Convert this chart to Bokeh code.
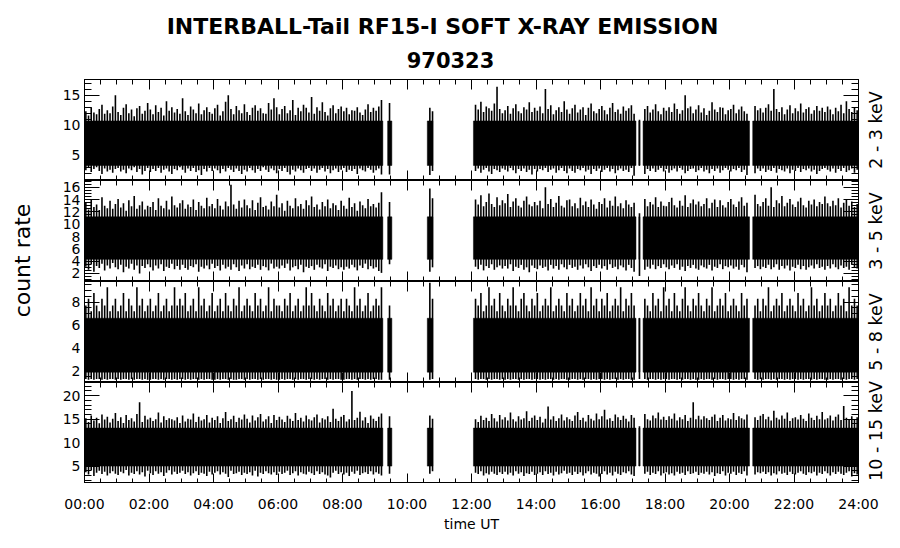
import math
import numpy as np
from bokeh.plotting import figure
from bokeh.layouts import row, column
from bokeh.models import ColumnDataSource, LinearAxis, FixedTicker, Range1d, Label
from bokeh.core.properties import value
from bokeh.embed import file_html
from bokeh.resources import INLINE

nan = float("nan")

TITLE = "INTERBALL-Tail RF15-I SOFT X-RAY EMISSION"
DATE = "970323"
Y_LABEL = "count rate"
X_LABEL = "time UT"
X_TICKS = [0, 2, 4, 6, 8, 10, 12, 14, 16, 18, 20, 22, 24]
X_TICK_LABELS = ["00:00", "02:00", "04:00", "06:00", "08:00", "10:00", "12:00",
                 "14:00", "16:00", "18:00", "20:00", "22:00", "24:00"]
BAND_LABELS = ["2 - 3 keV", "3 - 5 keV", "5 - 8 keV", "10 - 15 keV"]
Y_RANGES = [(0.8, 17.6), (0.7, 17.1), (1.0, 9.8), (1.3, 22.8)]
Y_TICKS = [[5, 10, 15], [2, 4, 6, 8, 10, 12, 14, 16], [2, 4, 6, 8], [5, 10, 15, 20]]
Y_MINOR_STEP = [1.0, 0.5, 0.5, 1.0]

# data-covered intervals (hours UT)
SEG_START = [0.00, 9.40, 10.63, 12.06, 17.19, 17.32, 20.72]
SEG_END = [9.25, 9.53, 10.80, 17.10, 17.22, 20.62, 24.00]
# dense (solid) part of each channel's count-rate band
CORE_LO = [3.3, 4.3, 1.9, 5.0]
CORE_HI = [10.7, 11.2, 6.6, 13.1]

# 5-minute bins (one row = one hour): bin maxima / minima, NaN = no data
HI_2_3 = [
    12.3, 11.6, 13.0, 12.1, 11.8, 12.7, 13.4, 11.9, 12.5, 12.0, 13.1, 15.0,
    12.2, 11.7, 12.9, 13.5, 12.0, 12.6, 11.5, 12.8, 13.2, 11.9, 12.4, 13.7,
    12.6, 11.8, 13.3, 12.2, 12.9, 11.6, 14.0, 12.4, 13.0, 12.1, 12.7, 11.9,
    14.5, 12.3, 11.7, 13.1, 12.6, 12.0, 13.6, 11.8, 12.5, 13.0, 12.2, 11.9,
    12.8, 13.4, 11.6, 12.3, 13.9, 15.0, 12.7, 11.8, 13.2, 12.5, 12.0, 13.5,
    12.2, 11.7, 12.9, 13.3, 12.4, 12.8, 12.0, 11.9, 13.7, 12.6, 14.5, 13.0,
    11.8, 12.7, 13.2, 12.0, 12.5, 14.2, 11.7, 12.9, 12.3, 13.4, 12.9, 12.1,
    14.7, 11.9, 13.0, 12.4, 13.8, 12.2, 11.6, 12.8, 13.3, 12.0, 12.7, 13.1,
    12.3, 12.9, 11.8, 12.5, 12.4, 13.0, 12.1, 11.7, 12.6, 13.5, 12.2, 12.9,
    12.4, 13.1, 14.2, nan, nan, 13.7, nan, nan, nan, nan, nan, nan,
    nan, nan, nan, nan, nan, nan, nan, nan, 12.9, 12.3, nan, nan,
    nan, nan, nan, nan, nan, nan, nan, nan, nan, nan, nan, nan,
    nan, 13.4, 12.6, 13.9, 12.2, 13.1, 12.8, 12.4, 13.6, 16.4, 12.7, 12.0,
    12.5, 13.2, 11.9, 12.8, 13.5, 12.3, 12.0, 13.0, 12.6, 13.8, 12.2, 12.9,
    12.4, 13.1, 12.0, 16.0, 12.7, 13.3, 11.8, 12.5, 13.0, 12.2, 14.0, 12.6,
    11.9, 12.8, 13.4, 12.1, 12.6, 13.0, 11.7, 12.9, 13.6, 12.3, 12.0, 12.7,
    13.2, 12.5, 11.8, 12.9, 13.7, 12.2, 12.6, 11.9, 13.1, 12.4, 12.8, 13.3,
    11.9, nan, 10.9, nan, 12.7, 13.2, 12.1, 12.6, 13.5, 12.3, 11.8, 12.9,
    12.4, 13.0, 12.2, 13.6, 12.7, 11.9, 12.5, 15.0, 12.8, 13.1, 12.0, 12.6,
    13.3, 12.1, 12.8, 11.7, 12.4, 13.8, 12.6, 12.2, 13.0, 12.9, 11.8, 12.5,
    12.7, 13.4, 12.0, 12.6, 13.1, 12.3, 11.9, nan, nan, 13.2, 12.5, 12.8,
    12.1, 12.9, 13.5, 12.4, 16.0, 12.7, 12.2, 13.0, 11.8, 12.6, 13.3, 12.0,
    12.8, 12.3, 13.6, 12.1, 12.7, 13.0, 11.9, 12.5, 13.2, 12.4, 12.9, 12.2,
    13.1, 12.6, 11.8, 12.9, 12.3, 13.4, 12.0, 14.0, 12.7, 12.2, 13.0, 12.5,
]
LO_2_3 = [
    2.5, 2.9, 2.2, 2.7, 3.0, 2.4, 1.9, 2.8, 2.3, 2.6, 2.1, 2.7,
    2.9, 2.3, 2.6, 2.0, 2.8, 2.5, 3.0, 2.2, 2.7, 1.8, 2.4, 2.9,
    2.2, 2.7, 2.4, 2.9, 2.1, 2.6, 2.8, 2.3, 1.9, 2.7, 2.5, 3.0,
    2.6, 2.1, 2.8, 2.4, 2.9, 2.2, 2.5, 1.7, 2.7, 2.3, 2.9, 2.4,
    2.8, 2.5, 2.0, 2.7, 2.3, 2.9, 2.6, 2.2, 2.8, 2.4, 1.9, 2.6,
    2.3, 2.9, 2.5, 2.1, 2.7, 2.4, 3.0, 2.6, 2.2, 2.8, 2.5, 2.0,
    2.7, 2.4, 2.9, 2.2, 1.8, 2.6, 2.3, 2.8, 2.5, 2.1, 2.7, 2.9,
    2.4, 2.8, 2.1, 2.6, 2.9, 2.3, 2.7, 2.0, 2.5, 2.8, 2.2, 2.6,
    2.9, 2.2, 2.6, 2.4, 2.7, 1.9, 2.8, 2.5, 2.3, 2.9, 2.6, 2.1,
    2.5, 2.8, 1.8, nan, nan, 1.8, nan, nan, nan, nan, nan, nan,
    nan, nan, nan, nan, nan, nan, nan, nan, 1.7, 2.4, nan, nan,
    nan, nan, nan, nan, nan, nan, nan, nan, nan, nan, nan, nan,
    nan, 2.4, 2.8, 2.1, 2.6, 2.9, 2.3, 1.9, 2.7, 2.5, 2.2, 2.8,
    2.6, 2.3, 2.9, 2.5, 2.0, 2.7, 2.4, 2.8, 2.2, 2.6, 1.8, 2.7,
    2.3, 2.7, 2.5, 2.9, 2.2, 2.6, 2.8, 2.1, 2.5, 2.9, 2.4, 2.0,
    2.8, 2.4, 2.1, 2.7, 2.5, 2.9, 2.3, 2.6, 1.9, 2.7, 2.4, 2.8,
    2.2, 2.6, 2.9, 2.3, 2.7, 2.0, 2.5, 2.8, 2.4, 2.6, 2.2, 2.9,
    1.6, nan, 3.3, nan, 1.9, 2.7, 2.4, 2.8, 2.2, 2.6, 2.9, 2.3,
    2.7, 2.1, 2.5, 2.8, 2.3, 2.9, 2.6, 2.0, 2.4, 2.7, 2.8, 2.2,
    2.5, 2.9, 2.3, 2.6, 2.0, 2.7, 2.4, 2.8, 2.1, 2.5, 2.9, 2.6,
    2.3, 2.7, 2.5, 2.9, 2.2, 2.6, 1.7, nan, nan, 2.0, 2.8, 2.4,
    2.8, 2.2, 2.6, 2.4, 2.9, 2.1, 2.7, 2.5, 2.3, 2.8, 2.0, 2.6,
    2.4, 2.9, 2.2, 2.7, 2.5, 2.8, 2.3, 2.6, 1.9, 2.4, 2.7, 2.9,
    2.6, 2.3, 2.8, 2.1, 2.7, 2.4, 2.9, 2.2, 2.5, 2.8, 2.1, 2.6,
]
HI_3_5 = [
    13.5, 12.4, 14.0, 12.8, 13.2, 12.3, 14.4, 13.0, 12.6, 13.8, 12.5, 13.3,
    14.1, 12.7, 13.4, 12.2, 13.9, 12.9, 14.6, 12.5, 13.1, 13.7, 12.4, 13.0,
    12.8, 13.6, 12.3, 14.2, 13.0, 12.6, 13.8, 12.4, 14.5, 13.1, 12.7, 13.4,
    13.9, 12.5, 13.2, 12.8, 14.0, 12.3, 13.6, 13.0, 12.6, 14.3, 12.9, 13.3,
    12.6, 14.1, 13.0, 12.4, 13.7, 12.9, 16.4, 13.2, 12.5, 13.8, 12.7, 14.0,
    13.1, 12.6, 13.9, 12.3, 13.5, 14.4, 12.8, 13.0, 12.4, 13.7, 12.9, 14.8,
    12.7, 13.4, 12.2, 13.8, 13.0, 12.6, 14.2, 12.9, 13.3, 12.5, 13.9, 13.1,
    14.5, 12.8, 13.2, 12.4, 13.6, 12.9, 14.0, 12.6, 13.4, 13.1, 12.3, 13.8,
    13.0, 12.5, 14.3, 12.8, 13.4, 12.2, 13.7, 13.1, 12.6, 14.1, 12.9, 13.3,
    12.7, 13.5, 15.2, nan, nan, 13.6, nan, nan, nan, nan, nan, nan,
    nan, nan, nan, nan, nan, nan, nan, nan, 15.8, 14.2, nan, nan,
    nan, nan, nan, nan, nan, nan, nan, nan, nan, nan, nan, nan,
    nan, 14.0, 13.2, 14.7, 12.9, 13.6, 15.0, 13.3, 12.8, 14.4, 13.1, 13.9,
    13.4, 14.9, 12.8, 13.7, 14.2, 13.0, 12.7, 13.8, 14.5, 13.2, 12.9, 13.6,
    13.1, 13.8, 12.6, 16.0, 13.3, 14.1, 12.8, 13.5, 14.6, 13.0, 12.7, 13.9,
    14.0, 12.9, 13.4, 12.6, 14.3, 13.1, 13.7, 12.8, 14.0, 13.2, 12.5, 13.6,
    13.3, 14.2, 12.7, 13.8, 13.0, 14.5, 12.9, 13.4, 12.6, 13.9, 13.2, 12.8,
    13.5, nan, 11.8, nan, 14.1, 12.9, 13.6, 13.2, 14.4, 12.8, 13.7, 13.0,
    12.9, 13.6, 14.3, 13.1, 12.7, 13.8, 13.0, 14.7, 12.8, 13.4, 14.0, 13.2,
    13.7, 12.9, 13.3, 14.2, 12.6, 13.5, 14.0, 12.8, 13.9, 13.1, 12.7, 13.6,
    14.1, 13.2, 12.8, 13.7, 14.4, 13.0, 13.5, nan, nan, 14.8, 13.3, 12.9,
    13.6, 14.2, 13.0, 16.0, 12.8, 13.9, 13.4, 14.6, 12.9, 13.5, 14.1, 13.2,
    12.8, 13.7, 14.3, 13.1, 12.7, 13.8, 13.2, 14.0, 12.9, 13.6, 13.3, 14.5,
    13.4, 12.9, 13.8, 13.1, 14.2, 12.7, 13.5, 14.0, 13.0, 13.7, 12.8, 13.3,
]
LO_3_5 = [
    3.1, 2.6, 3.5, 2.3, 3.2, 2.9, 3.6, 2.5, 3.3, 2.8, 3.7, 3.0,
    2.7, 3.4, 2.2, 3.1, 2.8, 3.6, 2.6, 3.3, 2.0, 3.2, 2.9, 3.5,
    3.0, 2.5, 3.3, 2.8, 3.5, 2.4, 3.1, 2.9, 3.6, 2.7, 3.2, 2.6,
    3.4, 2.9, 2.6, 3.2, 3.0, 3.5, 2.3, 3.1, 2.8, 3.3, 2.7, 3.6,
    2.9, 3.2, 2.5, 3.4, 2.8, 3.1, 2.6, 3.5, 3.0, 2.4, 3.3, 2.8,
    3.5, 2.7, 3.1, 2.9, 3.4, 2.6, 3.2, 3.0, 2.5, 3.6, 2.8, 3.1,
    2.8, 3.3, 2.9, 3.6, 2.5, 3.0, 3.2, 2.7, 3.4, 2.2, 3.1, 2.9,
    3.2, 2.6, 3.4, 3.0, 2.8, 3.5, 2.4, 3.1, 2.9, 3.3, 2.7, 3.0,
    2.6, 3.1, 2.8, 3.4, 3.0, 2.5, 3.3, 2.9, 3.6, 2.7, 3.2, 2.8,
    3.0, 2.4, 2.1, nan, nan, 3.5, nan, nan, nan, nan, nan, nan,
    nan, nan, nan, nan, nan, nan, nan, nan, 2.3, 3.0, nan, nan,
    nan, nan, nan, nan, nan, nan, nan, nan, nan, nan, nan, nan,
    nan, 3.1, 2.7, 3.4, 2.5, 3.2, 2.9, 3.5, 2.6, 3.0, 3.3, 2.8,
    3.2, 2.8, 3.5, 2.4, 3.1, 2.9, 3.4, 2.6, 3.0, 2.2, 3.3, 2.9,
    2.7, 3.3, 2.9, 3.1, 2.5, 3.4, 2.8, 3.2, 2.6, 3.5, 3.0, 2.7,
    3.4, 2.9, 3.1, 2.6, 3.3, 2.8, 3.5, 3.0, 2.4, 3.2, 2.9, 3.4,
    2.8, 3.2, 2.6, 3.5, 2.9, 3.1, 2.7, 3.3, 3.0, 2.5, 3.4, 2.9,
    2.3, nan, 1.6, nan, 2.6, 3.1, 2.8, 3.4, 2.7, 3.2, 2.9, 3.5,
    3.0, 2.7, 3.3, 2.9, 3.5, 2.6, 3.1, 2.4, 3.2, 2.9, 3.4, 2.8,
    2.6, 3.3, 3.0, 2.8, 3.4, 2.5, 3.1, 2.9, 3.5, 2.7, 3.2, 3.0,
    3.3, 2.8, 3.1, 2.6, 3.4, 3.0, 2.2, nan, nan, 2.9, 3.2, 2.7,
    3.1, 2.9, 3.4, 2.7, 3.0, 3.5, 2.6, 3.2, 2.8, 3.3, 2.5, 3.1,
    2.9, 3.4, 2.7, 3.2, 2.6, 3.0, 3.3, 2.8, 3.5, 2.9, 3.1, 2.6,
    3.2, 2.8, 3.5, 3.0, 2.7, 3.3, 2.9, 3.1, 2.6, 3.4, 3.0, 2.8,
]
HI_5_8 = [
    7.7, 8.3, 7.2, 8.8, 7.7, 7.2, 8.3, 7.7, 9.3, 7.2, 7.7, 8.3,
    7.2, 7.7, 8.8, 7.2, 8.3, 7.7, 7.2, 9.3, 7.7, 8.3, 7.2, 7.7,
    8.3, 7.2, 7.7, 8.8, 7.2, 7.7, 8.3, 7.2, 7.7, 9.3, 7.7, 8.3,
    7.7, 8.8, 7.2, 7.7, 8.3, 7.2, 9.3, 7.7, 8.3, 7.2, 7.7, 8.8,
    7.2, 7.7, 8.3, 7.2, 8.8, 7.7, 7.2, 8.3, 7.7, 9.3, 7.2, 7.7,
    8.3, 7.7, 7.2, 8.8, 7.7, 8.3, 7.2, 7.7, 9.3, 7.2, 8.3, 7.7,
    7.7, 7.2, 8.3, 7.7, 8.8, 7.2, 7.7, 8.3, 7.2, 7.7, 9.3, 7.7,
    8.8, 7.7, 7.2, 8.3, 7.7, 7.2, 8.8, 7.7, 8.3, 7.2, 7.7, 8.3,
    7.2, 8.3, 7.7, 7.2, 9.3, 7.7, 8.3, 7.2, 7.7, 8.8, 7.2, 7.7,
    8.3, 7.7, 9.3, nan, nan, 7.7, nan, nan, nan, nan, nan, nan,
    nan, nan, nan, nan, nan, nan, nan, nan, 9.7, 8.3, nan, nan,
    nan, nan, nan, nan, nan, nan, nan, nan, nan, nan, nan, nan,
    nan, 8.3, 7.7, 8.8, 7.2, 7.7, 9.3, 7.7, 8.3, 7.2, 8.8, 7.7,
    7.2, 8.3, 7.7, 9.3, 7.7, 7.2, 8.3, 8.8, 7.7, 7.2, 8.3, 7.7,
    8.8, 7.2, 7.7, 8.3, 7.7, 9.3, 7.2, 7.7, 8.3, 7.7, 7.2, 8.8,
    7.7, 8.3, 7.2, 7.7, 8.8, 7.7, 8.3, 7.2, 9.3, 7.7, 8.3, 7.2,
    8.3, 7.7, 8.8, 7.2, 7.7, 8.3, 7.7, 9.3, 7.2, 8.3, 7.7, 8.8,
    7.7, nan, 6.6, nan, 8.3, 7.7, 7.2, 8.8, 7.7, 8.3, 7.2, 9.3,
    7.7, 8.3, 7.2, 8.8, 7.7, 7.2, 8.3, 9.3, 7.7, 7.2, 8.3, 7.7,
    8.8, 7.7, 7.2, 8.3, 7.7, 9.3, 7.2, 7.7, 8.3, 7.7, 8.8, 7.2,
    7.7, 8.3, 7.7, 7.2, 8.8, 7.7, 8.3, nan, nan, 7.7, 8.3, 7.2,
    8.3, 7.7, 9.3, 7.2, 7.7, 8.3, 7.7, 8.8, 7.2, 7.7, 8.3, 7.7,
    7.2, 8.8, 7.7, 8.3, 7.2, 7.7, 9.3, 7.7, 8.3, 7.2, 7.7, 8.8,
    7.7, 8.3, 7.2, 7.7, 8.8, 7.7, 8.3, 7.2, 9.3, 7.7, 8.3, 7.7,
]
LO_5_8 = [
    1.3, 1.25, 1.3, 1.25, 1.3, 1.3, 1.25, 1.3, 1.25, 1.3, 1.3, 1.25,
    1.3, 1.25, 1.3, 1.3, 1.25, 1.3, 1.25, 1.3, 1.3, 1.25, 1.3, 1.25,
    1.25, 1.3, 1.3, 1.25, 1.3, 1.25, 1.3, 1.3, 1.25, 1.3, 1.25, 1.3,
    1.3, 1.25, 1.3, 1.25, 1.3, 1.3, 1.25, 1.3, 1.25, 1.3, 1.3, 1.25,
    1.25, 1.3, 1.25, 1.3, 1.3, 1.25, 1.3, 1.25, 1.25, 1.3, 1.3, 1.25,
    1.3, 1.25, 1.3, 1.3, 1.25, 1.3, 1.25, 1.3, 1.3, 1.25, 1.3, 1.25,
    1.25, 1.3, 1.25, 1.3, 1.3, 1.25, 1.3, 1.25, 1.3, 1.3, 1.25, 1.3,
    1.3, 1.25, 1.3, 1.25, 1.3, 1.3, 1.25, 1.3, 1.25, 1.3, 1.3, 1.25,
    1.25, 1.3, 1.3, 1.25, 1.3, 1.25, 1.3, 1.3, 1.25, 1.3, 1.25, 1.3,
    1.3, 1.25, 1.25, nan, nan, 1.25, nan, nan, nan, nan, nan, nan,
    nan, nan, nan, nan, nan, nan, nan, nan, 1.25, 1.3, nan, nan,
    nan, nan, nan, nan, nan, nan, nan, nan, nan, nan, nan, nan,
    nan, 1.3, 1.25, 1.3, 1.3, 1.25, 1.3, 1.25, 1.3, 1.3, 1.25, 1.3,
    1.25, 1.3, 1.25, 1.3, 1.3, 1.25, 1.3, 1.25, 1.3, 1.3, 1.25, 1.3,
    1.3, 1.25, 1.3, 1.25, 1.3, 1.3, 1.25, 1.3, 1.25, 1.3, 1.3, 1.25,
    1.25, 1.3, 1.3, 1.25, 1.3, 1.25, 1.3, 1.3, 1.25, 1.3, 1.25, 1.3,
    1.3, 1.25, 1.3, 1.25, 1.3, 1.3, 1.25, 1.3, 1.25, 1.3, 1.3, 1.25,
    1.25, nan, 1.3, nan, 1.3, 1.25, 1.3, 1.3, 1.25, 1.3, 1.25, 1.3,
    1.3, 1.25, 1.3, 1.3, 1.25, 1.3, 1.25, 1.3, 1.3, 1.25, 1.3, 1.25,
    1.25, 1.3, 1.25, 1.3, 1.3, 1.25, 1.3, 1.25, 1.3, 1.3, 1.25, 1.3,
    1.3, 1.25, 1.3, 1.25, 1.3, 1.3, 1.25, nan, nan, 1.3, 1.25, 1.3,
    1.25, 1.3, 1.3, 1.25, 1.3, 1.25, 1.3, 1.3, 1.25, 1.3, 1.25, 1.3,
    1.3, 1.25, 1.3, 1.25, 1.3, 1.3, 1.25, 1.3, 1.25, 1.3, 1.3, 1.25,
    1.25, 1.3, 1.25, 1.3, 1.3, 1.25, 1.3, 1.25, 1.3, 1.3, 1.25, 1.3,
]
HI_10_15 = [
    15.2, 14.4, 15.8, 14.7, 15.3, 14.1, 16.0, 14.9, 15.5, 14.3, 15.1, 16.3,
    14.6, 15.4, 14.2, 15.9, 14.8, 15.2, 14.5, 16.1, 18.6, 14.4, 15.7, 14.9,
    15.3, 14.6, 15.0, 16.4, 14.3, 15.6, 14.8, 15.2, 15.0, 14.7, 15.4, 14.2,
    15.8, 14.5, 15.1, 14.9, 16.2, 14.4, 15.5, 14.7, 15.0, 15.9, 14.3, 15.3,
    14.8, 15.6, 14.2, 15.2, 16.5, 14.6, 15.0, 15.7, 14.4, 15.3, 14.9, 16.0,
    15.1, 14.3, 15.8, 14.7, 15.4, 16.1, 14.5, 15.0, 15.6, 14.2, 15.9, 14.8,
    15.5, 14.9, 14.4, 15.7, 15.1, 14.6, 16.3, 14.8, 15.3, 14.5, 15.8, 15.0,
    14.7, 15.4, 16.0, 14.3, 15.2, 14.9, 15.6, 14.4, 17.2, 15.1, 14.6, 15.5,
    15.9, 14.5, 15.0, 21.0, 14.8, 15.3, 16.6, 14.7, 15.4, 14.2, 15.8, 15.1,
    14.6, 15.5, 16.2, nan, nan, 15.6, nan, nan, nan, nan, nan, nan,
    nan, nan, nan, nan, nan, nan, nan, nan, 15.8, 15.1, nan, nan,
    nan, nan, nan, nan, nan, nan, nan, nan, nan, nan, nan, nan,
    nan, 15.0, 14.4, 15.7, 14.8, 15.3, 14.6, 16.1, 15.2, 14.5, 15.9, 14.9,
    15.4, 14.7, 16.4, 15.0, 14.5, 15.6, 14.9, 15.2, 16.7, 14.6, 15.3, 15.8,
    14.8, 15.5, 14.3, 15.1, 17.7, 14.9, 15.6, 14.6, 15.2, 16.0, 14.7, 15.4,
    15.0, 14.6, 15.8, 16.5, 14.8, 15.3, 14.5, 15.9, 15.1, 14.7, 16.2, 15.0,
    15.6, 17.0, 14.9, 15.2, 14.6, 16.0, 15.4, 14.8, 15.7, 15.1, 14.5, 15.9,
    15.3, nan, 13.5, nan, 16.1, 15.0, 14.7, 15.8, 15.2, 16.4, 14.9, 15.5,
    14.8, 15.6, 15.1, 16.2, 14.7, 15.4, 15.0, 15.9, 14.6, 15.3, 18.6, 15.0,
    15.7, 14.9, 15.6, 15.2, 14.8, 15.5, 16.0, 14.6, 15.3, 15.9, 14.7, 15.2,
    15.0, 16.3, 14.8, 15.6, 15.2, 14.9, 16.0, nan, nan, 15.4, 14.8, 15.7,
    16.1, 15.0, 15.5, 14.7, 16.8, 15.3, 14.9, 15.8, 15.1, 16.4, 14.6, 15.2,
    15.4, 14.9, 15.9, 15.1, 14.6, 16.2, 15.3, 14.8, 15.7, 15.0, 16.5, 14.9,
    15.2, 15.8, 14.7, 15.5, 16.0, 14.8, 17.8, 15.3, 15.0, 15.6, 14.9, 15.4,
]
LO_10_15 = [
    3.7, 3.2, 4.1, 2.9, 3.6, 4.0, 3.3, 3.8, 3.0, 3.5, 3.9, 3.4,
    3.1, 3.8, 3.5, 4.2, 3.0, 3.6, 3.3, 3.9, 3.2, 3.7, 2.8, 4.0,
    3.5, 3.1, 3.9, 3.4, 3.7, 2.9, 3.6, 4.1, 3.2, 3.8, 3.3, 3.6,
    4.0, 3.3, 3.7, 3.0, 3.5, 3.9, 3.1, 3.6, 3.4, 2.9, 3.8, 3.2,
    3.6, 3.9, 3.2, 3.7, 3.4, 2.7, 4.0, 3.3, 3.5, 3.8, 3.1, 3.6,
    3.3, 3.7, 3.0, 4.0, 2.8, 3.6, 3.3, 3.9, 3.5, 3.2, 3.7, 3.1,
    3.8, 3.3, 3.6, 4.0, 3.1, 3.5, 3.9, 3.0, 3.7, 3.4, 3.2, 3.8,
    3.5, 3.1, 3.9, 3.3, 3.7, 3.2, 3.0, 2.6, 3.6, 4.0, 3.3, 3.7,
    3.2, 3.6, 2.9, 3.8, 3.4, 4.0, 3.1, 3.5, 3.7, 3.3, 3.9, 3.2,
    3.7, 3.4, 3.0, nan, nan, 3.4, nan, nan, nan, nan, nan, nan,
    nan, nan, nan, nan, nan, nan, nan, nan, 3.4, 3.9, nan, nan,
    nan, nan, nan, nan, nan, nan, nan, nan, nan, nan, nan, nan,
    nan, 3.6, 3.3, 3.9, 3.0, 3.5, 3.2, 3.8, 3.4, 3.1, 3.7, 3.3,
    3.8, 3.2, 3.6, 3.0, 3.9, 3.4, 3.7, 2.9, 3.5, 3.3, 3.8, 3.1,
    3.4, 3.7, 3.1, 3.9, 3.3, 3.6, 3.0, 3.8, 3.2, 3.5, 4.0, 3.4,
    3.6, 3.1, 3.8, 3.3, 3.7, 3.0, 3.5, 3.9, 3.2, 3.6, 3.4, 2.8,
    3.3, 3.9, 3.2, 3.6, 3.0, 3.8, 3.4, 3.1, 3.7, 3.5, 3.9, 3.2,
    2.9, nan, 5.0, nan, 3.4, 3.8, 3.1, 3.6, 3.3, 3.9, 3.0, 3.5,
    3.7, 3.2, 3.5, 3.0, 3.8, 3.4, 3.6, 3.1, 3.9, 3.3, 3.5, 3.8,
    3.1, 3.6, 3.4, 3.8, 3.2, 3.7, 2.9, 3.5, 3.3, 3.9, 3.0, 3.6,
    3.4, 3.8, 3.1, 3.6, 3.3, 3.9, 3.0, nan, nan, 3.2, 3.7, 3.5,
    3.8, 3.3, 3.7, 3.0, 3.5, 3.2, 3.9, 3.4, 3.6, 3.1, 3.8, 3.3,
    3.2, 3.6, 3.9, 3.4, 3.1, 3.7, 3.5, 3.8, 3.0, 3.6, 3.3, 3.9,
    3.5, 3.0, 3.7, 3.3, 3.8, 3.4, 3.1, 3.6, 3.9, 2.8, 3.5, 3.2,
]
HI = [HI_2_3, HI_3_5, HI_5_8, HI_10_15]
LO = [LO_2_3, LO_3_5, LO_5_8, LO_10_15]

# bin centre times (hours) of the 5-minute bins
T_BIN = (np.arange(len(HI_2_3)) * 5 + 2.5) / 60.0

FONT = "DejaVu Sans"
FRAME_W, FRAME_H = 774, 101
LAB_W, LEFT_B, RIGHT_B, RLAB_W = 52, 32, 4, 34
TOP_H, BOTTOM_H = 79, 56
BODY_H = 4 * FRAME_H
TOTAL_W = LAB_W + LEFT_B + FRAME_W + RIGHT_B + RLAB_W


def x_axis():
    minor = list(np.arange(0, 24.01, 0.5))
    ax = LinearAxis(ticker=FixedTicker(ticks=X_TICKS, minor_ticks=minor))
    ax.major_tick_in, ax.major_tick_out = 10, 0
    ax.minor_tick_in, ax.minor_tick_out = 5, 0
    ax.axis_line_color = "black"
    ax.major_tick_line_color = "black"
    ax.minor_tick_line_color = "black"
    ax.major_label_overrides = {t: "" for t in X_TICKS}
    ax.major_label_text_font_size = "0px"
    ax.major_label_standoff = 0
    return ax


def y_axis(k, labels):
    y0, y1 = Y_RANGES[k]
    step = Y_MINOR_STEP[k]
    minor = list(np.arange(math.ceil(y0 / step) * step, y1, step))
    ax = LinearAxis(ticker=FixedTicker(ticks=Y_TICKS[k], minor_ticks=minor))
    ax.major_tick_in, ax.major_tick_out = 15, 0
    ax.minor_tick_in, ax.minor_tick_out = 7, 0
    ax.axis_line_color = "black"
    ax.major_tick_line_color = "black"
    ax.minor_tick_line_color = "black"
    if labels:
        ax.major_label_text_font = FONT
        ax.major_label_text_font_size = "14px"
        ax.major_label_text_color = "black"
        ax.major_label_standoff = 4
    else:
        ax.major_label_overrides = {t: "" for t in Y_TICKS[k]}
        ax.major_label_text_font_size = "0px"
        ax.major_label_standoff = 0
    return ax


def blank(width, height, x_range=None):
    f = figure(width=width, height=height,
               x_range=x_range if x_range is not None else Range1d(0, width),
               y_range=Range1d(0, height),
               x_axis_type=None, y_axis_type=None, title_location=None,
               output_backend="svg", toolbar_location=None, min_border=0)
    f.outline_line_color = None
    f.grid.visible = False
    f.background_fill_color = "white"
    f.border_fill_color = "white"
    return f


figs = []
for k in range(4):
    y0, y1 = Y_RANGES[k]
    p = figure(frame_width=FRAME_W, frame_height=FRAME_H,
               x_range=Range1d(0, 24), y_range=Range1d(y0, y1),
               x_axis_type=None, y_axis_type=None, title_location=None,
               output_backend="svg", toolbar_location=None,
               min_border_left=LEFT_B, min_border_right=RIGHT_B,
               min_border_top=0, min_border_bottom=0)
    p.outline_line_color = "black"
    p.outline_line_width = 1
    p.background_fill_color = "white"
    p.border_fill_color = "white"
    p.grid.visible = False

    p.add_layout(x_axis(), "below")
    p.add_layout(x_axis(), "above")
    p.add_layout(y_axis(k, True), "left")
    p.add_layout(y_axis(k, False), "right")

    core = ColumnDataSource(dict(left=SEG_START, right=SEG_END,
                                 bottom=[CORE_LO[k]] * len(SEG_START),
                                 top=[CORE_HI[k]] * len(SEG_START)))
    p.quad(left="left", right="right", bottom="bottom", top="top", source=core,
           fill_color="black", line_color="black", line_width=0.5)
    src = ColumnDataSource(dict(t=T_BIN, hi=HI[k], lo=LO[k]))
    p.segment(x0="t", y0="lo", x1="t", y1="hi", source=src,
              line_color="black", line_width=1.6)
    figs.append(p)

# title strip
top = blank(TOTAL_W, TOP_H)
top.add_layout(Label(x=442, y=TOP_H - 26, text=TITLE, text_align="center",
                     text_baseline="middle", text_font=FONT, text_font_style="bold",
                     text_font_size="22px", text_color="black"))
top.add_layout(Label(x=450, y=TOP_H - 59, text=DATE, text_align="center",
                     text_baseline="middle", text_font=FONT, text_font_style="bold",
                     text_font_size="21px", text_color="black"))

# left label strip
lab = blank(LAB_W, BODY_H)
lab.add_layout(Label(x=22, y=BODY_H - 181, text=Y_LABEL, angle=math.pi / 2,
                     text_align="center", text_baseline="middle",
                     text_font=FONT, text_font_size="22px", text_color="black"))

# right label strip (last label nudged up so it stays inside the strip)
rlab = blank(RLAB_W, BODY_H)
for k in range(4):
    yc = BODY_H - (k + 0.5) * FRAME_H + (2 if k == 3 else 0)
    rlab.add_layout(Label(x=13, y=yc, text=BAND_LABELS[k],
                          angle=math.pi / 2, text_align="center", text_baseline="middle",
                          text_font=FONT, text_font_size="17.5px", text_color="black"))

# bottom strip: time tick labels on the same hour scale as the panels
px_per_h = FRAME_W / 24.0
x_lo = -(LAB_W + LEFT_B) / px_per_h
x_hi = 24 + (RIGHT_B + RLAB_W) / px_per_h
bot = blank(TOTAL_W, BOTTOM_H, x_range=Range1d(x_lo, x_hi))
tick_src = ColumnDataSource(dict(x=X_TICKS, y=[BOTTOM_H - 20] * len(X_TICKS), text=X_TICK_LABELS))
bot.text(x="x", y="y", text="text", source=tick_src, text_align="center",
         text_baseline="middle", text_font=value(FONT), text_font_size="14px",
         text_color="black")
bot.add_layout(Label(x=12, y=BOTTOM_H - 40, text=X_LABEL, text_align="center",
                     text_baseline="middle", text_font=FONT, text_font_size="14px",
                     text_color="black"))

layout = column(top, row(lab, column(*figs, spacing=0), rlab, spacing=0), bot, spacing=0)
open("out.html", "w").write(file_html(layout, INLINE))
